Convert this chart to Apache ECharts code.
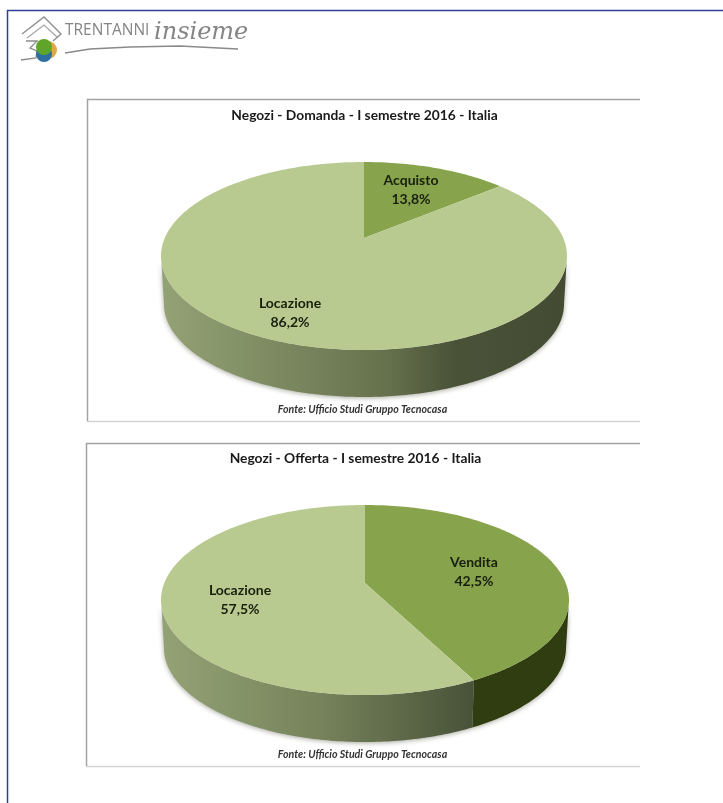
<!DOCTYPE html>
<html><head><meta charset="utf-8">
<style>html,body{margin:0;padding:0;background:#fff}#c{width:723px;height:803px}</style>
<script src="https://cdn.jsdelivr.net/npm/echarts@6/dist/echarts.min.js"></script>
</head><body><div id="c"></div>
<script>
// ---- data ----
const demandCategories = ['Acquisto', 'Locazione'];
const demandValues = [13.8, 86.2];
const offerCategories = ['Vendita', 'Locazione'];
const offerValues = [42.5, 57.5];
const demandTitle = 'Negozi - Domanda - I semestre 2016 - Italia';
const offerTitle = 'Negozi - Offerta - I semestre 2016 - Italia';
const sourceNote = 'Fonte: Ufficio Studi Gruppo Tecnocasa';

// ---- style / layout ----
const FONT = 'Lato, "Open Sans", sans-serif';
const LIGHT = '#b8ca90', DARK = '#87a34b';
const K = 0.83; // perspective warp of the pie's angles
const demandGeo = {cx:364, cy:256, a:203, b:94, ax:364, ay:238,
  bcx:364, bcy:304, ba:200, bb:93,
  colors:[DARK, LIGHT],
  sideStops:[[[0,'#93a275'],[0.55,'#66724d'],[0.72,'#4a5238'],[1,'#434b32']],[[0,'#93a275'],[0.55,'#66724d'],[0.72,'#4a5238'],[1,'#434b32']]],
  gradX:[165,566],
  labels:[[411,190],[290,313]]};
const offerGeo = {cx:365, cy:600, a:204, b:95, ax:365, ay:583,
  bcx:365, bcy:648, ba:201, bb:94,
  colors:[DARK, LIGHT],
  sideStops:[[[0,'#3a4a14'],[1,'#2f3d10']],[[0,'#93a275'],[0.5,'#76835b'],[1,'#485238']]],
  gradX:[165,474],
  labels:[[474,572],[240,600]]};

function warp(theta){ // true angle (from 12 o'clock, clockwise) -> ellipse parameter
  const t = theta % (2*Math.PI);
  if (Math.abs(t-Math.PI) < 1e-6) return theta;
  const turns = theta - t;
  let p = 2*Math.atan(K*Math.tan(t/2));
  if (p < 0) p += 2*Math.PI;
  return turns + p;
}
function pt(cx,cy,a,b,phi){ return [cx + a*Math.sin(phi), cy - b*Math.cos(phi)]; }

function sliceRenderer(geo, cats){
  return function(params, api){
    const i = params.dataIndex;
    const total = api.value(2);
    const start = api.value(0)/total*2*Math.PI;
    const end = (api.value(0)+api.value(1))/total*2*Math.PI;
    const p0 = warp(start), p1 = end >= 2*Math.PI-1e-6 ? 2*Math.PI : warp(end);
    const top = [[geo.ax,geo.ay]], STEP = Math.PI/180;
    for (let p=p0; p<p1; p+=STEP) top.push(pt(geo.cx,geo.cy,geo.a,geo.b,p));
    top.push(pt(geo.cx,geo.cy,geo.a,geo.b,p1));
    const children = [];
    const s0 = Math.max(p0, Math.PI/2), s1 = Math.min(p1, 3*Math.PI/2);
    if (s1 > s0) {
      const upper=[], lower=[];
      for (let p=s0; p<s1; p+=STEP){
        upper.push(pt(geo.cx,geo.cy,geo.a,geo.b,p));
        lower.push(pt(geo.bcx,geo.bcy,geo.ba,geo.bb,p));
      }
      upper.push(pt(geo.cx,geo.cy,geo.a,geo.b,s1));
      lower.push(pt(geo.bcx,geo.bcy,geo.ba,geo.bb,s1));
      children.push({type:'polygon', z2:1, shape:{points:upper.concat(lower.reverse())},
        style:{fill:{type:'linear',global:true,x:geo.gradX[0],y:0,x2:geo.gradX[1],y2:0,
          colorStops:geo.sideStops[i].map(s=>({offset:s[0],color:s[1]}))},
          shadowBlur:5, shadowColor:'rgba(60,60,40,0.45)', shadowOffsetY:1}});
    }
    children.push({type:'polygon', z2:2, shape:{points:top}, style:{fill:geo.colors[i]}});
    const val = api.value(1).toFixed(1).replace('.',',')+'%';
    children.push({type:'text', z2:5, x:geo.labels[i][0], y:geo.labels[i][1],
      style:{text:cats[i]+'\n'+val, align:'center', verticalAlign:'middle',
        font:'bold 14px '+FONT, lineHeight:19, fill:'#18200c'}});
    return {type:'group', children};
  };
}
function toData(cats, vals){
  const total = vals.reduce((s,v)=>s+v,0); let acc = 0;
  return cats.map((name,i)=>{ const d={name, value:[acc, vals[i], total]}; acc+=vals[i]; return d; });
}
function pieSeries(cats, vals, geo){
  return {type:'custom', coordinateSystem:'none', silent:true, renderItem:sliceRenderer(geo,cats), data:toData(cats,vals)};
}
function frame(x0,y0,x1,y1){
  return [
    {type:'polyline', shape:{points:[[x1,y0],[x0,y0],[x0,y1]]}, style:{stroke:'#a3a3a3', fill:null, lineWidth:1.5}},
    {type:'polyline', shape:{points:[[x0,y1],[x1,y1]]}, style:{stroke:'#d4d4d4', fill:null, lineWidth:1.5}}
  ];
}
function note(y){
  return {type:'text', x:362.5, y, style:{text:sourceNote, align:'center', verticalAlign:'middle',
    font:'italic bold 10.6px '+FONT, fill:'#333'}};
}
function heading(t,x,y){
  return {type:'text', x, y, style:{text:t, align:'center', verticalAlign:'middle',
    font:'bold 13.8px '+FONT, fill:'#1a1a1a'}};
}
const logo = [
  {type:'polyline', shape:{points:[[22,34],[44,17],[61,34],[53,41]]}, style:{stroke:'#8f8f8f',fill:null,lineWidth:1.4}},
  {type:'polyline', shape:{points:[[27,38],[44,25],[57,37]]}, style:{stroke:'#a5a5a5',fill:null,lineWidth:1.2}},
  {type:'polyline', shape:{points:[[26,41],[37,41],[30,48],[37,51],[36,58],[21,60]]}, style:{stroke:'#8c8c8c',fill:null,lineWidth:1.3}},
  {type:'circle', shape:{cx:48,cy:50,r:9}, style:{fill:'#e3a64a'}},
  {type:'circle', shape:{cx:44,cy:54,r:8}, style:{fill:'#2f6f9f'}},
  {type:'circle', shape:{cx:44,cy:47,r:8}, style:{fill:'#5fa52a'}},
  {type:'text', x:65, y:31, style:{text:'TRENTANNI', verticalAlign:'middle', font:'15.5px "Open Sans", sans-serif', fill:'#858585'}},
  {type:'text', x:154, y:33, style:{text:'insieme', verticalAlign:'middle', font:'italic 24px "DejaVu Serif", serif', fill:'#858585'}},
  {type:'polyline', shape:{points:[[65,53],[90,49],[130,47],[180,46],[238,49]]}, style:{stroke:'#8a8a8a',fill:null,lineWidth:1.4}},
];
const chart = echarts.init(document.getElementById('c'), null, {renderer:'canvas'});
chart.setOption({
  animation:false,
  backgroundColor:'#fff',
  graphic:{elements:[
    {type:'polyline', shape:{points:[[7.5,803],[7.5,10.5],[723,10.5]]}, style:{stroke:'#2f3f96',fill:null,lineWidth:1.5}},
    ...logo,
    ...frame(87.5,99.5,640,421.5),
    ...frame(86.5,443.5,640,766.5),
    heading(demandTitle,364.5,116),
    heading(offerTitle,355.5,459),
    note(410), note(755)
  ]},
  series:[pieSeries(demandCategories,demandValues,demandGeo), pieSeries(offerCategories,offerValues,offerGeo)]
});
</script></body></html>
